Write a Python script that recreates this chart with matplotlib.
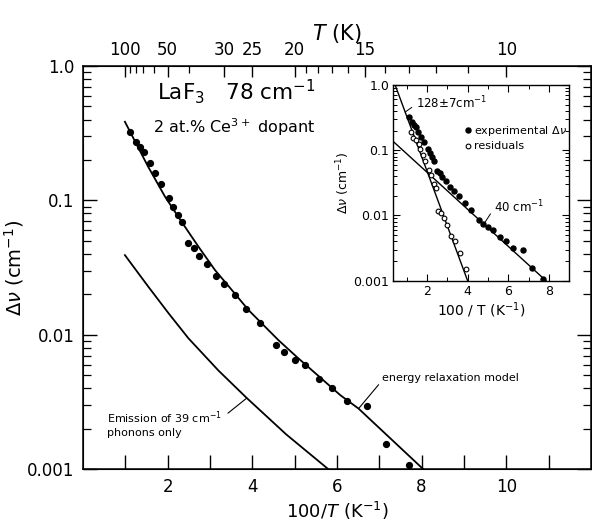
import numpy as np
import matplotlib
matplotlib.use('Agg')
import matplotlib.pyplot as plt
from matplotlib.ticker import FixedLocator, NullFormatter, LogLocator

plt.rcParams['font.family'] = ['DejaVu Sans']
plt.rcParams['mathtext.fontset'] = 'dejavusans'

# experimental linewidth, main panel (100/T, delta nu in cm-1)
exp_x = [1.11, 1.25, 1.35, 1.45, 1.58, 1.69, 1.84, 2.03, 2.13, 2.25, 2.33,
         2.49, 2.63, 2.74, 2.92, 3.14, 3.33, 3.58, 3.85, 4.18, 4.55, 4.74,
         5.02, 5.25, 5.57, 5.89, 6.23, 6.71, 7.16, 7.71]
exp_y = [0.324, 0.273, 0.248, 0.228, 0.189, 0.159, 0.132, 0.105, 0.0897,
         0.0778, 0.0686, 0.0484, 0.0440, 0.0385, 0.0336, 0.0273, 0.0238,
         0.0197, 0.0156, 0.0122, 0.00842, 0.00751, 0.00655, 0.00594,
         0.00467, 0.00405, 0.00322, 0.00296, 0.00155, 0.00108]

# energy relaxation model curve
model_x = [0.99, 1.54, 1.94, 2.33, 2.73, 3.12, 3.52, 3.91, 4.62, 5.05,
           6.08, 6.51, 8.05]
model_y = [0.385, 0.178, 0.1064, 0.0693, 0.0452, 0.0303, 0.0215, 0.0153,
           0.00912, 0.00686, 0.00356, 0.00283, 0.000995]

# emission of 39 cm-1 phonons only
emis_x = [0.99, 1.54, 2.02, 2.49, 3.20, 3.87, 4.80, 5.80]
emis_y = [0.0392, 0.0229, 0.0145, 0.00944, 0.00543, 0.00339, 0.00182, 0.001]

# inset: residuals after removing the 40 cm-1 part
res_x = [1.21, 1.34, 1.48, 1.59, 1.67, 1.79, 1.89, 2.08, 2.21, 2.36, 2.46,
         2.57, 2.69, 2.82, 2.98, 3.18, 3.36, 3.61, 3.90]
res_y = [0.188, 0.156, 0.1435, 0.1247, 0.1032, 0.0845, 0.0692, 0.0498,
         0.0417, 0.0303, 0.0261, 0.01185, 0.0108, 0.00904, 0.00714, 0.0049,
         0.00406, 0.00269, 0.00151]

# straight fits in the inset (end points)
fit128_x = [0.44, 4.0]
fit128_y = [1.0, 0.001]
fit40_x = [0.36, 7.85]
fit40_y = [0.135, 0.001]

x_ticks = list(range(1, 12))
x_labels = ['', '2', '', '4', '', '6', '', '8', '', '10', '']
y_ticks = [0.001, 0.01, 0.1, 1.0]
y_labels = ['0.001', '0.01', '0.1', '1.0']

T_major = [100, 50, 30, 25, 20, 15, 10]
T_minor = [90, 80, 70, 60, 40, 19, 18, 17, 16, 14, 13, 12, 11]

fig = plt.figure(figsize=(5.92, 5.29), dpi=100)
ax = fig.add_axes([0.1402, 0.1128, 0.858, 0.7624])

ax.plot(model_x, model_y, color='k', lw=1.3)
ax.plot(emis_x, emis_y, color='k', lw=1.3)
ax.plot(exp_x, exp_y, 'o', color='k', ms=4.2)

ax.set_yscale('log')
ax.set_xlim(0, 12)
ax.set_ylim(0.001, 1.0)
ax.set_xticks(x_ticks)
ax.set_xticklabels(x_labels)
ax.set_yticks(y_ticks)
ax.set_yticklabels(y_labels)
ax.yaxis.set_minor_locator(LogLocator(base=10, subs=np.arange(2, 10)))
ax.yaxis.set_minor_formatter(NullFormatter())
ax.tick_params(axis='both', which='major', direction='in', labelsize=12,
               length=10, width=1, top=False, right=True, pad=6)
ax.tick_params(axis='y', which='minor', direction='in', length=6, width=0.9,
               right=True)
ax.set_xlabel(r'100/$T$ (K$^{-1}$)', fontsize=13, labelpad=3)
ax.set_ylabel(r'$\Delta\nu$ (cm$^{-1}$)', fontsize=14, labelpad=1)
for s in ax.spines.values():
    s.set_linewidth(1.1)

# top temperature axis
top = ax.twiny()
top.set_xlim(ax.get_xlim())
top.set_xticks([100.0 / t for t in T_major])
top.set_xticklabels([str(t) for t in T_major])
top.xaxis.set_minor_locator(FixedLocator([100.0 / t for t in T_minor]))
top.tick_params(axis='x', which='major', direction='in', labelsize=12,
                length=8, width=1, pad=5)
top.tick_params(axis='x', which='minor', direction='in', length=5, width=0.9)
top.set_xlabel(r'$T$ (K)', fontsize=15, labelpad=1)

ax.text(1.75, 0.64, r'LaF$_3$   78 cm$^{-1}$', fontsize=15.5, ha='left',
        va='center')
ax.text(1.65, 0.35, r'2 at.% Ce$^{3+}$ dopant', fontsize=11.5, ha='left',
        va='center')

ax.annotate('energy relaxation model', xy=(6.51, 0.00283),
            xytext=(7.07, 0.00475), fontsize=8, ha='left', va='center',
            arrowprops=dict(arrowstyle='-', lw=0.8, color='k',
                            relpos=(0, 0.3), shrinkA=1, shrinkB=0))
ax.annotate('Emission of 39 cm$^{-1}$\nphonons only', xy=(3.87, 0.00339),
            xytext=(0.57, 0.00218), fontsize=8, ha='left', va='center',
            linespacing=1.3,
            arrowprops=dict(arrowstyle='-', lw=0.8, color='k',
                            relpos=(1.0, 0.7), shrinkA=3, shrinkB=0))

# inset
ins = fig.add_axes([0.6644, 0.4694, 0.2973, 0.3699])
ins.plot(fit128_x, fit128_y, color='k', lw=1.0)
ins.plot(fit40_x, fit40_y, color='k', lw=1.0)
ins.plot(exp_x, exp_y, 'o', color='k', ms=3.6, label=r'experimental $\Delta\nu$')
ins.plot(res_x, res_y, 'o', mfc='white', mec='k', mew=0.8, ms=3.4,
         label='residuals')
ins.set_yscale('log')
ins.set_xlim(0.35, 9.0)
ins.set_ylim(0.001, 1.0)
ins.set_xticks([2, 4, 6, 8])
ins.set_xticks([1, 3, 5, 7], minor=True)
ins.set_yticks(y_ticks)
ins.set_yticklabels(y_labels)
ins.yaxis.set_minor_locator(LogLocator(base=10, subs=np.arange(2, 10)))
ins.yaxis.set_minor_formatter(NullFormatter())
ins.tick_params(axis='both', which='major', direction='in', labelsize=9,
                length=5, width=0.8, top=True, right=True, pad=3)
ins.tick_params(axis='both', which='minor', direction='in', length=3,
                width=0.7, top=True, right=True)
ins.set_xlabel(r'100 / T (K$^{-1}$)', fontsize=10, labelpad=2)
ins.set_ylabel(r'$\Delta\nu$ (cm$^{-1}$)', fontsize=9, labelpad=1)
for s in ins.spines.values():
    s.set_linewidth(1.0)

ins.annotate(r'128$\pm$7cm$^{-1}$', xy=(0.93, 0.385), xytext=(1.45, 0.53),
             fontsize=8.5, ha='left', va='center',
             arrowprops=dict(arrowstyle='-', lw=0.7, color='k',
                             relpos=(0, 0.4), shrinkA=1, shrinkB=0))
ins.annotate(r'40 cm$^{-1}$', xy=(4.8, 0.0074), xytext=(5.3, 0.0136),
             fontsize=8.5, ha='left', va='center',
             arrowprops=dict(arrowstyle='-', lw=0.7, color='k',
                             relpos=(0, 0.4), shrinkA=1, shrinkB=0))
ins.legend(loc='upper left', bbox_to_anchor=(0.36, 0.84), frameon=False,
           fontsize=8, handlelength=0.6, handletextpad=0.3, borderpad=0.2,
           labelspacing=0.3)

fig.savefig('out.png', dpi=100)
